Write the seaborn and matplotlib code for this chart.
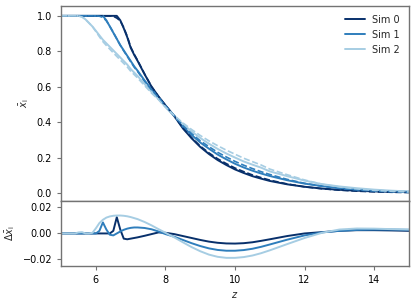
import numpy as np
import pandas as pd
import matplotlib
matplotlib.use("Agg")
import matplotlib.pyplot as plt
import seaborn as sns

# redshift grid
z = [5.0, 5.25, 5.4, 5.5, 5.6, 5.7, 5.8, 5.9, 6.0, 6.1, 6.2, 6.3, 6.4, 6.5,
     6.6, 6.7, 6.8, 6.9, 7.0, 7.1, 7.2, 7.4, 7.6, 7.8, 8.0, 8.25, 8.5, 8.75,
     9.0, 9.25, 9.5, 9.75, 10.0, 10.25, 10.5, 10.75, 11.0, 11.5, 12.0, 12.5,
     13.0, 13.5, 14.0, 14.5, 15.0]

# mean ionised fraction per simulation
xi_sim0 = [1.0, 1.0, 1.0, 1.0, 1.0, 1.0, 1.0, 1.0, 1.0, 1.0, 1.0, 1.0, 1.0, 1.0,
           1.0, 0.975, 0.93, 0.88, 0.82, 0.78, 0.745, 0.67, 0.60, 0.545, 0.495, 0.435, 0.365, 0.309,
           0.26, 0.22, 0.186, 0.158, 0.133, 0.113, 0.095, 0.081, 0.068, 0.049, 0.035, 0.025,
           0.018, 0.013, 0.009, 0.0065, 0.0047]
xi_sim1 = [1.0, 1.0, 1.0, 1.0, 1.0, 1.0, 1.0, 1.0, 1.0, 1.0, 1.0, 0.975, 0.94, 0.905,
           0.87, 0.835, 0.805, 0.775, 0.745, 0.715, 0.69, 0.635, 0.585, 0.54, 0.49, 0.435, 0.375, 0.328,
           0.285, 0.25, 0.217, 0.19, 0.165, 0.144, 0.126, 0.11, 0.096, 0.072, 0.053, 0.039,
           0.028, 0.02, 0.014, 0.01, 0.007]
xi_sim2 = [1.0, 1.0, 1.0, 1.0, 0.995, 0.98, 0.96, 0.94, 0.915, 0.89, 0.865, 0.845, 0.825, 0.805,
           0.785, 0.765, 0.745, 0.725, 0.70, 0.68, 0.66, 0.615, 0.57, 0.53, 0.485, 0.435, 0.389, 0.348,
           0.311, 0.278, 0.249, 0.223, 0.200, 0.178, 0.160, 0.143, 0.122, 0.095, 0.07, 0.05,
           0.037, 0.027, 0.019, 0.013, 0.009]

# residual (simulation - model)
dxi_sim0 = [0.0, 0.0, 0.0, 0.0, 0.0, 0.0, 0.0, 0.0, 0.0, 0.0, 0.0, 0.0, 0.0, 0.002,
            0.0125, 0.003, -0.004, -0.0045, -0.004, -0.0035, -0.003, -0.0018, -0.0005, 0.0008, 0.0005, -0.0005, -0.002, -0.0035,
            -0.005, -0.0063, -0.0072, -0.0077, -0.0078, -0.0075, -0.0068, -0.0057, -0.0045, -0.002, 0.0, 0.001,
            0.002, 0.0025, 0.0025, 0.0023, 0.002]
dxi_sim1 = [0.0, 0.0, 0.0, 0.0, 0.0, 0.0, 0.0, 0.0, 0.0, 0.002, 0.0085, 0.003, -0.001, -0.0015,
            0.0, 0.0015, 0.0028, 0.0037, 0.0043, 0.0046, 0.0046, 0.0042, 0.0032, 0.0015, -0.0005, -0.0025, -0.005, -0.0075,
            -0.0097, -0.0115, -0.0127, -0.0133, -0.0133, -0.0128, -0.0118, -0.0103, -0.0085, -0.0048, -0.0015, 0.0008,
            0.002, 0.0027, 0.003, 0.003, 0.0028]
dxi_sim2 = [0.0, 0.0, 0.0, 0.0008, 0.001, 0.0, 0.0, 0.0005, 0.004, 0.008, 0.0105, 0.0122, 0.0131, 0.0136,
            0.0138, 0.0138, 0.0136, 0.0132, 0.0126, 0.0118, 0.011, 0.0088, 0.0062, 0.0033, 0.0005, -0.003, -0.0068, -0.0105,
            -0.0137, -0.0163, -0.018, -0.0188, -0.0188, -0.0182, -0.017, -0.0152, -0.013, -0.0082, -0.0035, 0.0005,
            0.003, 0.0038, 0.0037, 0.0033, 0.003]

labels = ["Sim 0", "Sim 1", "Sim 2"]
colors = ["#08306b", "#2f7ebc", "#a6cde3"]

frames = []
for lab, xi, dxi in zip(labels, [xi_sim0, xi_sim1, xi_sim2], [dxi_sim0, dxi_sim1, dxi_sim2]):
    d = pd.DataFrame({"z": z, "xi": xi, "dxi": dxi})
    d["model"] = d["xi"] - d["dxi"]
    d["sim"] = lab
    frames.append(d)
df = pd.concat(frames, ignore_index=True)

sns.set_style("ticks")
plt.rcParams.update({
    "font.family": ["DejaVu Sans"],
    "font.size": 7,
    "axes.edgecolor": "0.45",
    "axes.linewidth": 1.0,
    "xtick.color": "0.45",
    "ytick.color": "0.45",
    "xtick.labelcolor": "black",
    "ytick.labelcolor": "black",
    "xtick.labelsize": 7,
    "ytick.labelsize": 7,
    "xtick.major.size": 3,
    "ytick.major.size": 3,
})

fig, (ax1, ax2) = plt.subplots(2, 1, figsize=(4.16, 3.06), dpi=100, sharex=True,
                               gridspec_kw={"height_ratios": [3, 1], "hspace": 0})
fig.subplots_adjust(left=0.147, right=0.983, top=0.980, bottom=0.131)

pal = dict(zip(labels, colors))
sns.lineplot(data=df, x="z", y="xi", hue="sim", palette=pal, lw=1.4, ax=ax1)
sns.lineplot(data=df, x="z", y="model", hue="sim", palette=pal, lw=1.2,
             linestyle="--", legend=False, ax=ax1)
sns.lineplot(data=df, x="z", y="dxi", hue="sim", palette=pal, lw=1.4,
             legend=False, ax=ax2)

ax1.set_xlim(5, 15)
ax1.set_ylim(-0.045, 1.055)
ax1.set_yticks([0.0, 0.2, 0.4, 0.6, 0.8, 1.0])
ax1.set_ylabel(r"$\bar{x}_{\rm i}$", fontsize=7)
ax1.set_xlabel("")
ax1.legend(frameon=False, loc="upper right", fontsize=7, handlelength=2.0,
           borderaxespad=0.5, title=None)

ax2.set_ylim(-0.025, 0.025)
ax2.set_yticks([-0.02, 0.0, 0.02])
ax2.set_xticks([6, 8, 10, 12, 14])
ax2.set_ylabel(r"$\Delta\bar{x}_{\rm i}$", fontsize=7)
ax2.set_xlabel(r"$z$", fontsize=7)

fig.savefig("out.png", dpi=100)
